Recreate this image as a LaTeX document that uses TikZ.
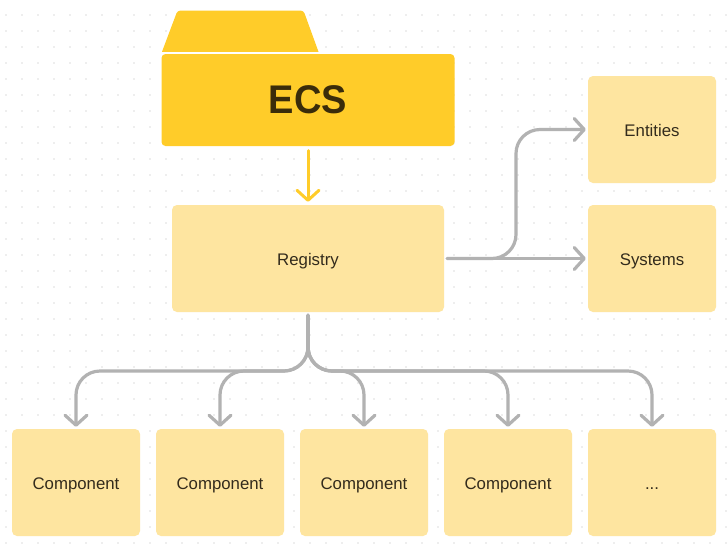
\documentclass[tikz,border=0pt]{standalone}
\usepackage{fontspec}
\usepackage{graphicx}
\setmainfont{Liberation Sans}
\usetikzlibrary{arrows.meta}
\definecolor{boxfill}{HTML}{FEE5A0}
\definecolor{ecsfill}{HTML}{FFCC29}
\definecolor{ink}{HTML}{332B1C}
\definecolor{ecsink}{HTML}{3A2C0A}
\definecolor{linkgray}{HTML}{B2B2B2}
\definecolor{griddot}{HTML}{DEDEDE}
\tikzset{
  x=1pt,y=-1pt,
  softbox/.style={rectangle,rounded corners=5pt,fill=boxfill,text=ink,inner sep=0pt,
    text height=15.6pt,text depth=2pt,font=\fontsize{16.8}{20}\selectfont},
  compbox/.style={softbox,minimum width=128pt,minimum height=107pt},
  sidebox/.style={softbox,minimum width=128pt,minimum height=107pt},
  ecsbox/.style={rectangle,rounded corners=4pt,fill=ecsfill,text=ecsink,inner sep=0pt,
    text height=31pt,text depth=4pt,
    minimum width=293pt,minimum height=92pt,font=\fontsize{40}{44}\selectfont\bfseries},
  chev/.style={-{Straight Barb[length=10pt,width=22pt,round]},line cap=round,line join=round,
    line width=3.2pt,shorten >=2pt,shorten <=3pt},
  graylink/.style={chev,draw=linkgray,rounded corners=24pt},
  yellowlink/.style={chev,draw=ecsfill,line width=3pt,shorten <=4.5pt,shorten >=3pt},
}
\begin{document}
\begin{tikzpicture}
\useasboundingbox (0,0) rectangle (727,544);
\fill[white] (0,0) rectangle (727,544);
\foreach \i in {0,...,45}{\foreach \j in {-1,...,33}{
  \fill[griddot] ({6+16*\i},{15+16*\j}) circle (0.9pt);
}}
% folder tab
\path[fill=ecsfill] (162,51.8) [rounded corners=3pt] -- (177.5,10.5) -- (303.5,10.5) [sharp corners] -- (318.5,51.8) -- cycle;
\node[ecsbox] (ecs) at (308,100) {\scalebox{0.95}[1]{ECS}};
\node[softbox,minimum width=272pt,minimum height=107pt] (reg) at (308,258.5) {Registry};
\node[sidebox] (ent) at (652,129.5) {Entities};
\node[sidebox] (sys) at (652,258.5) {Systems};
\node[compbox] (c1) at (76,482.5) {Component};
\node[compbox] (c2) at (220,482.5) {Component};
\node[compbox] (c3) at (364,482.5) {Component};
\node[compbox] (c4) at (508,482.5) {Component};
\node[compbox] (c5) at (652,482.5) {...};
\coordinate (bus) at (308,371);
\coordinate (riser) at (516,258.5);
\draw[yellowlink] (ecs.south) -- (reg.north);
\foreach \c in {c1,c2,c3,c4,c5}{
  \draw[graylink] (reg.south) -- (reg.south |- bus) -- (\c.north |- bus) -- (\c.north);
}
\draw[graylink] (reg.east) -- (sys.west);
\draw[graylink] (reg.east) -- (riser) -- (riser |- ent.west) -- (ent.west);
\end{tikzpicture}
\end{document}
